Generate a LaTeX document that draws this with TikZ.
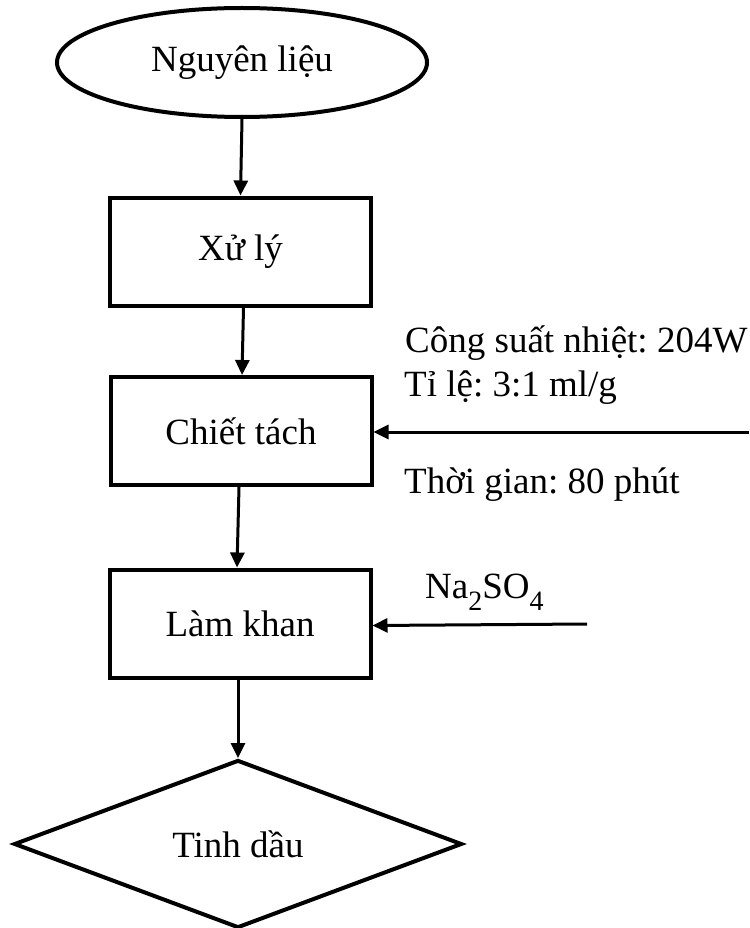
\documentclass[tikz,border=0pt]{standalone}
\usepackage{fontspec}
\setmainfont{Liberation Serif}
\usetikzlibrary{shapes.geometric,arrows.meta}
\newcommand{\lowidx}[1]{\raisebox{-12pt}{\fontsize{28}{30}\selectfont #1}}
\begin{document}
\frenchspacing
\begin{tikzpicture}[x=1pt,y=-1pt,
  every node/.style={font=\fontsize{37}{44}\selectfont},
  stepbox/.style={draw,line width=4pt,minimum width=261pt,minimum height=108pt,inner sep=0pt},
  flow/.style={line width=3pt,-{Triangle[length=15pt,width=14pt]}},
  note/.style={anchor=base west,inner sep=0pt}]
\useasboundingbox (0,0) rectangle (749,928);

% process chain
\node[ellipse,draw,line width=4pt,minimum width=370pt,minimum height=109pt,inner sep=0pt] (nl) at (242,62.5) {Nguyên liệu};
\node[stepbox] (xl) at (240.5,251.5) {Xử lý};
\node[stepbox] (ct) at (241,431) {Chiết tách};
\node[stepbox] (lk) at (240,623.5) {Làm khan};
\node[diamond,draw,line width=4pt,minimum width=448pt,minimum height=168pt,inner sep=0pt] (td) at (238,844) {Tinh dầu};

\draw[flow] (nl.south) -- (xl.north);
\draw[flow] ([xshift=3pt]xl.south) -- ([xshift=1pt]ct.north);
\draw[flow] ([xshift=-2pt]ct.south) -- ([xshift=-3pt]lk.north);
\draw[flow] ([xshift=-2pt]lk.south) -- (td.north);

% extraction conditions
\coordinate (cin) at (749,432);
\draw[flow] (cin) -- (ct.east |- cin);
\node[note] (c1) at (405,352) {Công suất nhiệt: 204W};
\node[note] (c2) at (404,396) {Tỉ lệ: 3:1 ml/g};
\node[note] (c3) at (404,493) {Thời gian: 80 phút};

% drying agent
\coordinate (nin) at (587,624);
\draw[flow] (nin) -- ([yshift=-2pt]lk.east);
\node[note] (na) at (425,598) {Na\lowidx{2}SO\lowidx{4}};
\end{tikzpicture}
\end{document}
